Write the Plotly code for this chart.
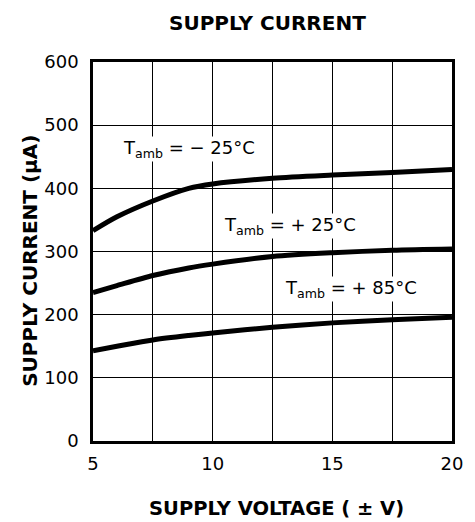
import plotly.graph_objects as go

voltage = [5, 6, 7.5, 9, 10, 12.5, 15, 17.5, 20]
i_m25 = [333, 355, 380, 400, 407, 416, 421, 425, 430]
i_p25 = [235, 246, 262, 274, 280, 292, 298, 302, 304]
i_p85 = [143, 150, 160, 167, 171, 180, 187, 192, 196]

labels = ["T<sub>amb</sub> = − 25°C", "T<sub>amb</sub> = + 25°C", "T<sub>amb</sub> = + 85°C"]
label_x = [6.2, 10.45, 13.0]
label_y = [462, 340, 240]

x_ticks = [5, 10, 15, 20]
y_ticks = [0, 100, 200, 300, 400, 500, 600]

FONT = "DejaVu Sans, Verdana, sans-serif"

fig = go.Figure()
for ys in (i_m25, i_p25, i_p85):
    fig.add_trace(go.Scatter(x=voltage, y=ys, mode="lines",
                             line=dict(color="black", width=5, shape="spline", smoothing=0.8),
                             showlegend=False, hoverinfo="skip"))

for t, xx, yy in zip(labels, label_x, label_y):
    fig.add_annotation(x=xx, y=yy, text=t, showarrow=False, xanchor="left", yanchor="middle",
                       bgcolor="white", borderpad=0,
                       font=dict(size=18, color="black", family=FONT))

# titles
fig.add_annotation(xref="paper", yref="paper", x=0.485, y=1.104, text="<b>SUPPLY CURRENT</b>",
                   showarrow=False, xanchor="center", yanchor="middle",
                   font=dict(size=20, family=FONT, color="black"))
fig.add_annotation(xref="paper", yref="paper", x=0.512, y=-0.179, text="<b>SUPPLY VOLTAGE ( ± V)</b>",
                   showarrow=False, xanchor="center", yanchor="middle",
                   font=dict(size=19.5, family=FONT, color="black"))
fig.add_annotation(xref="paper", yref="paper", x=-0.176, y=0.475, text="<b>SUPPLY CURRENT (µA)</b>",
                   showarrow=False, xanchor="center", yanchor="middle", textangle=-90,
                   font=dict(size=20, family=FONT, color="black"))

fig.update_layout(
    width=475, height=522,
    margin=dict(l=93, r=13, t=62, b=81),
    paper_bgcolor="white", plot_bgcolor="white",
    font=dict(family=FONT, color="black", size=18),
)
fig.update_xaxes(range=[5, 20], tickvals=x_ticks, ticks="", showgrid=True,
                 gridcolor="black", gridwidth=1,
                 showline=True, linecolor="black", linewidth=2.5, mirror=True,
                 zeroline=False, tickfont=dict(size=18, family=FONT), ticklabelstandoff=5,
                 minor=dict(tickvals=[7.5, 12.5, 17.5], showgrid=True, gridcolor="black", gridwidth=1))
fig.update_yaxes(range=[0, 600], tickvals=y_ticks, ticks="", showgrid=True,
                 gridcolor="black", gridwidth=1,
                 showline=True, linecolor="black", linewidth=2.5, mirror=True,
                 zeroline=False, tickfont=dict(size=18, family=FONT), ticklabelstandoff=8)

fig.write_html("out.html", config={"displayModeBar": False},
               post_script="document.body.style.margin='0';document.body.style.overflow='hidden';")
